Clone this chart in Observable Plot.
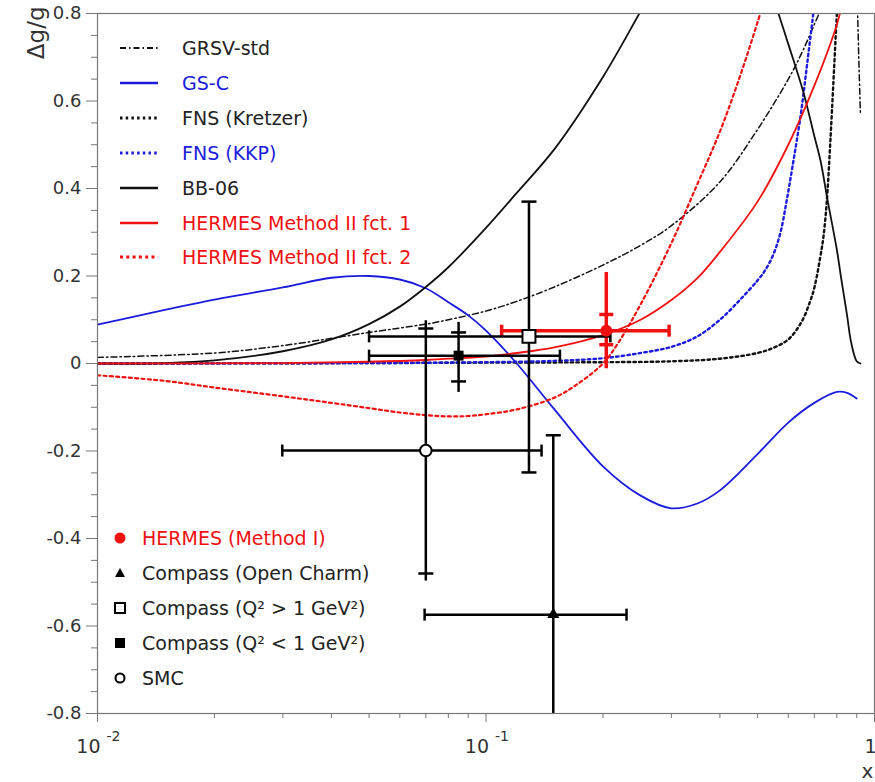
<!DOCTYPE html>
<html><head><meta charset="utf-8">
<script src="https://cdn.jsdelivr.net/npm/d3@7"></script>
<script src="https://cdn.jsdelivr.net/npm/@observablehq/plot@0.6"></script>
<style>
body{margin:0;background:#fff;font-family:"DejaVu Sans",sans-serif;}
#wrap{position:relative;width:875px;height:782px;}
.row{position:absolute;display:flex;align-items:center;white-space:nowrap;font-size:19px;height:24px;}
</style></head><body><div id="wrap"></div>
<script>
// ---- curve data (x, Δg/g) ----
const seriesNames = ["GRSV-std","GS-C","FNS (Kretzer)","FNS (KKP)","BB-06","HERMES Method II fct. 1","HERMES Method II fct. 2"];
const grsvX = [0.01,0.02,0.03,0.05,0.07,0.08,0.1,0.12,0.15,0.2,0.25,0.3,0.4,0.5,0.6,0.65,0.7,0.75,0.8,0.85,0.89,0.905,0.92];
const grsvY = [0.014,0.024,0.041,0.071,0.09,0.10,0.12,0.142,0.175,0.225,0.27,0.315,0.415,0.535,0.65,0.71,0.775,0.84,0.95,1.2,1.2,0.8,0.57];
const gscX = [0.01,0.015,0.02,0.03,0.04,0.05,0.06,0.07,0.08,0.09,0.1,0.12,0.15,0.2,0.25,0.3,0.35,0.4,0.5,0.6,0.7,0.8,0.85,0.9];
const gscY = [0.089,0.123,0.146,0.174,0.196,0.200,0.192,0.172,0.14,0.11,0.075,0.0,-0.105,-0.235,-0.302,-0.331,-0.32,-0.29,-0.207,-0.135,-0.09,-0.065,-0.067,-0.08];
const fnsKX = [0.01,0.05,0.1,0.2,0.3,0.4,0.5,0.55,0.6,0.649,0.684,0.701,0.7305,0.739,0.748,0.757,0.770,0.784,0.798,0.813];
const fnsKY = [0.0,0.001,0.002,0.003,0.005,0.011,0.024,0.036,0.055,0.095,0.144,0.175,0.26,0.29,0.335,0.395,0.51,0.645,0.78,0.91];
const fnsPX = [0.01,0.05,0.1,0.15,0.2,0.25,0.3,0.35,0.4,0.45,0.5,0.5247,0.5495,0.573,0.5936,0.615,0.645,0.672,0.7];
const fnsPY = [0.0,0.001,0.003,0.006,0.012,0.024,0.038,0.062,0.10,0.145,0.19,0.215,0.25,0.30,0.37,0.45,0.565,0.69,0.82];
const bbX = [0.01,0.015,0.02,0.03,0.04,0.05,0.06,0.07,0.08,0.1,0.12,0.15,0.2,0.25,0.3,0.4,0.5,0.566,0.6,0.656,0.7,0.726,0.757,0.8,0.82,0.85,0.87,0.9,0.92];
const bbY = [0.0,0.001,0.007,0.028,0.055,0.09,0.13,0.175,0.22,0.31,0.39,0.49,0.655,0.805,0.93,1.05,0.95,0.8,0.73,0.62,0.52,0.464,0.374,0.26,0.197,0.11,0.05,0.005,0.0];
const h1X = [0.01,0.03,0.05,0.07,0.08,0.1,0.12,0.15,0.2,0.25,0.3,0.35,0.4,0.5,0.6,0.7,0.8,0.85];
const h1Y = [0.0,0.001,0.004,0.008,0.011,0.016,0.024,0.037,0.065,0.10,0.145,0.195,0.255,0.37,0.50,0.635,0.775,0.87];
const h2X = [0.01,0.015,0.02,0.03,0.04,0.05,0.06,0.07,0.08,0.09,0.1,0.12,0.15,0.17,0.2,0.22,0.25,0.3,0.35,0.4,0.45,0.5,0.55];
const h2Y = [-0.027,-0.04,-0.055,-0.075,-0.09,-0.102,-0.112,-0.118,-0.121,-0.12,-0.116,-0.105,-0.078,-0.05,0.0,0.05,0.135,0.275,0.41,0.53,0.655,0.78,0.9];
const seriesX = [grsvX,gscX,fnsKX,fnsPX,bbX,h1X,h2X];
const seriesY = [grsvY,gscY,fnsKY,fnsPY,bbY,h1Y,h2Y];

// ---- experimental points ----
const expNames = ["HERMES (Method I)","Compass (Open Charm)","Compass (Q² > 1 GeV²)","Compass (Q² < 1 GeV²)","SMC"];
const expX = [0.204,0.149,0.129,0.085,0.070];
const expY = [0.075,-0.574,0.062,0.018,-0.199];
const expXLow = [0.1097,0.0695,0.050,0.050,0.0299];
const expXHigh = [0.296,0.230,0.209,0.155,0.139];
const expStatLow = [0.043,-0.984,-0.249,-0.041,-0.48];
const expStatHigh = [0.112,-0.164,0.370,0.071,0.08];
const expTotLow = [-0.012,-0.984,-0.249,-0.066,-0.497];
const expTotHigh = [0.208,-0.164,0.370,0.094,0.098];

// ---- ticks ----
const yMajor = [-0.8,-0.6,-0.4,-0.2,0,0.2,0.4,0.6,0.8];
const yMinor = [-0.75,-0.7,-0.65,-0.55,-0.5,-0.45,-0.35,-0.3,-0.25,-0.15,-0.1,-0.05,0.05,0.1,0.15,0.25,0.3,0.35,0.45,0.5,0.55,0.65,0.7,0.75];
const xMajor = [0.01,0.1,1];
const xMinor = [0.02,0.03,0.04,0.05,0.06,0.07,0.08,0.09,0.2,0.3,0.4,0.5,0.6,0.7,0.8,0.9];
const xDecades = [0.01,0.1];
const xDecadeExp = ["-2","-1"];

// ---- styles ----
const BLUE = "#1c1cdc", RED = "#f01010";
const lineStyle = {
  "GRSV-std": {stroke:"#111", width:1.5, dash:"6,3,1.5,3", text:"#222"},
  "GS-C": {stroke:BLUE, width:1.8, dash:null, text:BLUE},
  "FNS (Kretzer)": {stroke:"#111", width:2.4, dash:"2.5,3.2", text:"#222"},
  "FNS (KKP)": {stroke:BLUE, width:2.4, dash:"2.5,3.2", text:BLUE},
  "BB-06": {stroke:"#111", width:1.8, dash:null, text:"#222"},
  "HERMES Method II fct. 1": {stroke:RED, width:1.8, dash:null, text:RED},
  "HERMES Method II fct. 2": {stroke:RED, width:2.2, dash:"3,3.3", text:RED}
};
const expStyle = [
  {color:RED, w:3.5, sym:"circle", r:6, fill:RED, stroke:"none", sw:0, text:RED},
  {color:"#000", w:2.5, sym:"triangle", r:4.5, fill:"#000", stroke:"none", sw:0, text:"#222"},
  {color:"#000", w:2.5, sym:"square", r:7.3, fill:"#fff", stroke:"#000", sw:2, text:"#222"},
  {color:"#000", w:2.5, sym:"square", r:5.6, fill:"#000", stroke:"none", sw:0, text:"#222"},
  {color:"#000", w:2.5, sym:"circle", r:5.8, fill:"#fff", stroke:"#000", sw:2, text:"#222"}
];

const capH = {draw(ctx, size){ const r = Math.sqrt(size/Math.PI); ctx.moveTo(-r,0); ctx.lineTo(r,0); }};
const capV = {draw(ctx, size){ const r = Math.sqrt(size/Math.PI); ctx.moveTo(0,-r); ctx.lineTo(0,r); }};

const marks = [];
seriesNames.forEach((name,i)=>{
  const st = lineStyle[name];
  const rows = seriesX[i].map((x,j)=>({x, y: seriesY[i][j]}));
  const o = {x:"x", y:"y", stroke: st.stroke, strokeWidth: st.width, curve:"catmull-rom", clip:true};
  if (st.dash) o.strokeDasharray = st.dash;
  marks.push(Plot.line(rows, o));
});

const exp = expNames.map((name,i)=>({name, x:expX[i], y:expY[i], xLo:expXLow[i], xHi:expXHigh[i],
  sLo:expStatLow[i], sHi:expStatHigh[i], tLo:expTotLow[i], tHi:expTotHigh[i]}));

exp.forEach((d,i)=>{
  const s = expStyle[i];
  const capR = i===0 ? 7 : 7.5;
  marks.push(Plot.ruleX([d], {x:"x", y1:"tLo", y2:"tHi", stroke:s.color, strokeWidth:s.w, clip:true}));
  marks.push(Plot.ruleY([d], {y:"y", x1:"xLo", x2:"xHi", stroke:s.color, strokeWidth:s.w, clip:true}));
  for (const k of ["sLo","sHi"]) marks.push(Plot.dot([d], {x:"x", y:k, symbol:capH, r:capR, stroke:s.color, strokeWidth:s.w, fill:"none", clip:true}));
  for (const k of ["xLo","xHi"]) marks.push(Plot.dot([d], {x:k, y:"y", symbol:capV, r:6, stroke:s.color, strokeWidth:s.w, fill:"none", clip:true}));
});
exp.forEach((d,i)=>{
  const s = expStyle[i];
  marks.push(Plot.dot([d], {x:"x", y:"y", symbol:s.sym, r:s.r, fill:s.fill, stroke:s.stroke, strokeWidth:s.sw}));
});

// axes and frame
marks.push(Plot.frame({stroke:"#777", strokeWidth:1.2}));
marks.push(Plot.axisY({ticks:yMajor, tickSize:11, tickPadding:5, tickFormat:d=> d===0 ? "0" : d.toFixed(1), fontSize:18, label:null, color:"#333", stroke:"#777"}));
marks.push(Plot.axisY({ticks:yMinor, tickSize:6, tickFormat:()=>"", label:null, stroke:"#777"}));
marks.push(Plot.axisX({ticks:xMajor, tickSize:9, tickFormat:()=>"", label:null, stroke:"#777"}));
marks.push(Plot.axisX({ticks:xMinor, tickSize:5, tickFormat:()=>"", label:null, stroke:"#777"}));
marks.push(Plot.text(xDecades, {x:d=>d, text:()=>"10", frameAnchor:"bottom", textAnchor:"end", lineAnchor:"bottom", dx:3, dy:39, fontSize:19, fill:"#333"}));
marks.push(Plot.text(xDecades, {x:d=>d, text:(d,i)=>xDecadeExp[i], frameAnchor:"bottom", textAnchor:"start", lineAnchor:"bottom", dx:9, dy:27, fontSize:14, fill:"#333"}));
marks.push(Plot.text([1], {x:d=>d, text:()=>"1", frameAnchor:"bottom", textAnchor:"middle", lineAnchor:"bottom", dx:-4, dy:39, fontSize:19, fill:"#333"}));
marks.push(Plot.text([1], {x:d=>d, text:()=>"x", frameAnchor:"bottom", textAnchor:"middle", lineAnchor:"bottom", dx:-7, dy:64, fontSize:20, fill:"#333"}));
marks.push(Plot.text(["Δg/g"], {frameAnchor:"top-left", text:d=>d, rotate:-90, textAnchor:"end", dx:-70, dy:-7, fontSize:23, fill:"#333"}));

const chart = Plot.plot({
  width:875, height:782,
  marginLeft:97, marginRight:1, marginTop:13, marginBottom:69,
  x:{type:"log", domain:[0.01,1]},
  y:{domain:[-0.8,0.8]},
  style:{fontFamily:"DejaVu Sans", fontSize:"18px", color:"#333", background:"white", overflow:"visible"},
  marks
});
const wrap = document.getElementById("wrap");
wrap.appendChild(chart);

// ---- legends (HTML overlay) ----
seriesNames.forEach((name,i)=>{
  const st = lineStyle[name];
  const row = document.createElement("div");
  row.className = "row";
  row.style.left = "120px";
  row.style.top = (48 + i*34.9 - 12) + "px";
  row.innerHTML = `<svg width="40" height="24"><line x1="0" x2="38" y1="12" y2="12" stroke="${st.stroke}" stroke-width="${st.width+0.6}" ${st.dash?`stroke-dasharray="${st.dash}"`:""}/></svg>`;
  const span = document.createElement("span");
  span.style.marginLeft = "22px"; span.style.color = st.text; span.textContent = name;
  row.appendChild(span);
  wrap.appendChild(row);
});
expNames.forEach((name,i)=>{
  const s = expStyle[i];
  let shape;
  if (s.sym === "circle") shape = `<circle cx="10" cy="12" r="${s.fill==="#fff"?4.5:5.5}" fill="${s.fill}" stroke="${s.stroke}" stroke-width="${s.sw}"/>`;
  else if (s.sym === "triangle") shape = `<path d="M10,7 L15,16 L5,16 Z" fill="#000"/>`;
  else if (s.fill === "#fff") shape = `<rect x="5" y="7" width="10" height="10" fill="#fff" stroke="#000" stroke-width="2"/>`;
  else shape = `<rect x="5" y="7" width="10" height="10" fill="#000"/>`;
  const row = document.createElement("div");
  row.className = "row";
  row.style.left = "110px";
  row.style.top = (538 + i*35 - 12) + "px";
  row.innerHTML = `<svg width="20" height="24">${shape}</svg>`;
  const span = document.createElement("span");
  span.style.marginLeft = "12px"; span.style.color = s.text; span.textContent = name;
  row.appendChild(span);
  wrap.appendChild(row);
});
</script></body></html>
